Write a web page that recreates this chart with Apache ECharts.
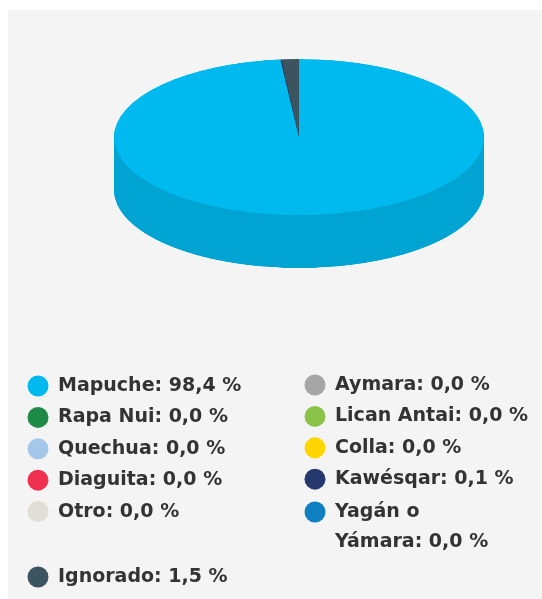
<!DOCTYPE html>
<html>
<head>
<meta charset="utf-8">
<script src="https://cdn.jsdelivr.net/npm/echarts@6/dist/echarts.min.js"></script>
<style>
  html, body { margin: 0; padding: 0; background: #fff; }
  #wrap { position: relative; width: 542px; height: 599px; overflow: hidden; }
  #panel { position: absolute; left: 8px; top: 10px; right: 0; bottom: 0; background: #f4f4f4; }
  /* the pie is drawn round, then squashed to look like a tilted disc */
  #pie { position: absolute; left: 0; top: 0; width: 542px; height: 720px; transform-origin: 0 0; }
  #legend { position: absolute; left: 0; top: 0; width: 542px; height: 599px; }
</style>
</head>
<body>
<div id="wrap">
  <div id="panel"></div>
  <div id="pie"></div>
  <div id="legend"></div>
</div>
<script>
// datos
const etnias = ['Mapuche', 'Aymara', 'Rapa Nui', 'Lican Antai', 'Quechua', 'Colla', 'Diaguita', 'Kawésqar', 'Otro', 'Yagán o Yámara', 'Ignorado'];
const porcentajes = [98.4, 0.0, 0.0, 0.0, 0.0, 0.0, 0.0, 0.1, 0.0, 0.0, 1.5];
const colores = ['#00baef', '#a6a6a6', '#1d8b45', '#8bc34a', '#a3c7e9', '#ffd600', '#f0304f', '#25396d', '#e0ded5', '#0e80c1', '#3c5360'];
const colIzq = ['Mapuche', 'Rapa Nui', 'Quechua', 'Diaguita', 'Otro'];
const colDer = ['Aymara', 'Lican Antai', 'Colla', 'Kawésqar'];

const K = 78 / 185;      // aplastamiento vertical
const R = 185;
const CX = 299;
const CY = 137 / K;
const PROF = 53 / K;     // grosor del disco
const CAPAS = 60;

document.getElementById('pie').style.transform = 'scaleY(' + K + ')';

function oscurecer(hex, f) {
  let n = parseInt(hex.slice(1), 16);
  let r = Math.round(((n >> 16) & 255) * f);
  let g = Math.round(((n >> 8) & 255) * f);
  let b = Math.round((n & 255) * f);
  return 'rgb(' + r + ',' + g + ',' + b + ')';
}

const lados = colores.map(c => oscurecer(c, 0.88));

function datosPie(cols) {
  return etnias.map((n, i) => ({name: n, value: porcentajes[i], itemStyle: {color: cols[i]}}));
}

function capa(cy, cols) {
  return {
    type: 'pie',
    radius: R,
    center: [CX, cy],
    startAngle: 90,
    clockwise: true,
    silent: true,
    animation: false,
    label: {show: false},
    labelLine: {show: false},
    itemStyle: {borderWidth: 0},
    data: datosPie(cols)
  };
}

let seriesPie = [];
for (let i = CAPAS; i >= 1; i--) {
  seriesPie.push(capa(CY + PROF * i / CAPAS, lados));
}
seriesPie.push(capa(CY, colores));

const pieChart = echarts.init(document.getElementById('pie'));
pieChart.setOption({animation: false, series: seriesPie});

// leyenda
function fmt(name) {
  let v = porcentajes[etnias.indexOf(name)];
  return name + ': ' + v.toFixed(1).replace('.', ',') + ' %';
}

const baseLegend = {
  orient: 'vertical',
  padding: 0,
  itemWidth: 30,
  itemHeight: 21,
  itemGap: 10.4,
  icon: 'circle',
  selectedMode: false,
  formatter: fmt,
  textStyle: {
    fontFamily: 'DejaVu Sans',
    fontWeight: 'bold',
    fontSize: 19,
    color: '#333333',
    lineHeight: 21
  }
};

const legendChart = echarts.init(document.getElementById('legend'));
legendChart.setOption({
  animation: false,
  legend: [
    Object.assign({}, baseLegend, {left: 27.5, top: 375.5, data: colIzq}),
    Object.assign({}, baseLegend, {left: 304.5, top: 374.5, data: colDer}),
    Object.assign({}, baseLegend, {
      left: 304.5, top: 467,
      // texto en dos líneas, la primera alineada con el círculo
      formatter: name => '{t|' + fmt(name) + '}',
      textStyle: Object.assign({}, baseLegend.textStyle, {
        lineHeight: 30, width: 165, overflow: 'break', padding: [30, 0, 0, 0],
        rich: {t: {fontFamily: 'DejaVu Sans', fontWeight: 'bold', fontSize: 19, color: '#333333', lineHeight: 30}}
      }),
      data: ['Yagán o Yámara']
    }),
    Object.assign({}, baseLegend, {left: 27.5, top: 566.5, data: ['Ignorado']})
  ],
  series: [{
    type: 'pie',
    radius: 0,
    center: [-50, -50],
    silent: true,
    label: {show: false},
    labelLine: {show: false},
    data: datosPie(colores)
  }]
});
</script>
</body>
</html>
